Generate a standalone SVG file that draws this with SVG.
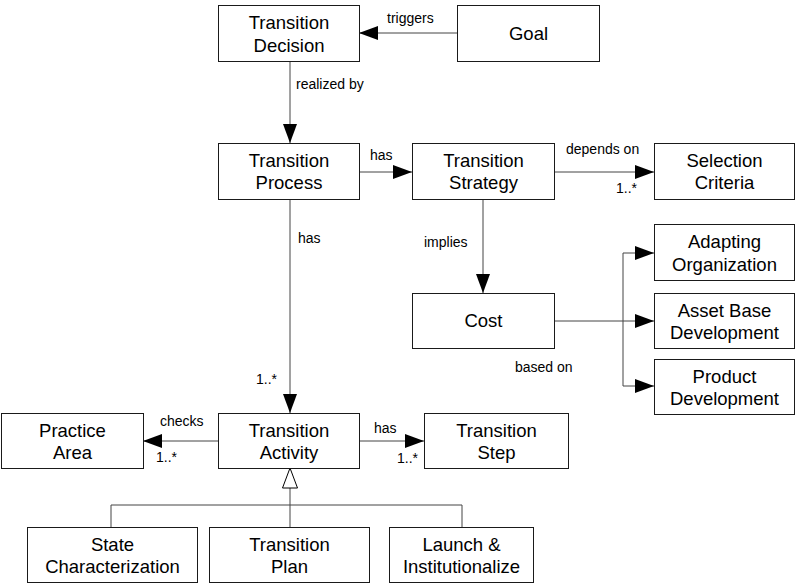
<svg xmlns="http://www.w3.org/2000/svg" width="795" height="583" viewBox="0 0 795 583">
<style>
.box{fill:#fff;stroke:#1a1a1a;stroke-width:1}
.nt{font-family:"Liberation Sans",Arial,sans-serif;font-size:18.5px;fill:#000;text-anchor:middle}
.lb{font-family:"Liberation Sans",Arial,sans-serif;font-size:14px;fill:#000}
.cn{fill:none;stroke:#444;stroke-width:1}
</style>
<defs>
<marker id="arr" markerUnits="userSpaceOnUse" markerWidth="20" markerHeight="16" refX="19" refY="7.5" orient="auto">
<path d="M0,0.5 L19,7.5 L0,14.5 z" fill="#000"/>
</marker>
<marker id="gen" markerUnits="userSpaceOnUse" markerWidth="22" markerHeight="18" refX="20.5" refY="8.5" orient="auto">
<path d="M0.5,1 L20.5,8.5 L0.5,16 z" fill="#fff" stroke="#000" stroke-width="1"/>
</marker>
</defs>
<rect width="795" height="583" fill="#fff"/>
<g id="connectors">
<line class="cn" x1="457" y1="33" x2="359" y2="33" marker-end="url(#arr)"/>
<line class="cn" x1="290" y1="61" x2="290" y2="143" marker-end="url(#arr)"/>
<line class="cn" x1="359" y1="172" x2="412" y2="172" marker-end="url(#arr)"/>
<line class="cn" x1="554" y1="172" x2="654" y2="172" marker-end="url(#arr)"/>
<line class="cn" x1="483" y1="199" x2="483" y2="293" marker-end="url(#arr)"/>
<line class="cn" x1="290" y1="199" x2="290" y2="413" marker-end="url(#arr)"/>
<line class="cn" x1="554" y1="321" x2="654" y2="321" marker-end="url(#arr)"/>
<path class="cn" d="M623,321 V253 H654" marker-end="url(#arr)"/>
<path class="cn" d="M623,321 V386 H654" marker-end="url(#arr)"/>
<line class="cn" x1="218" y1="441" x2="143" y2="441" marker-end="url(#arr)"/>
<line class="cn" x1="359" y1="441" x2="424" y2="441" marker-end="url(#arr)"/>
<path class="cn" d="M111,527 V505 H462 V527"/>
<line class="cn" x1="290" y1="527" x2="290" y2="468" marker-end="url(#gen)"/>
<text class="lb" x="387" y="23">triggers</text>
<text class="lb" x="296" y="89">realized by</text>
<text class="lb" x="370" y="160">has</text>
<text class="lb" x="566" y="154">depends on</text>
<text class="lb" x="616" y="193">1..*</text>
<text class="lb" x="298" y="243">has</text>
<text class="lb" x="424" y="247">implies</text>
<text class="lb" x="515" y="372">based on</text>
<text class="lb" x="256" y="384">1..*</text>
<text class="lb" x="160" y="426">checks</text>
<text class="lb" x="156" y="462">1..*</text>
<text class="lb" x="374" y="433">has</text>
<text class="lb" x="397" y="463">1..*</text>
</g>
<g id="transition-decision"><rect class="box" x="218.5" y="5.5" width="141" height="56"/><text class="nt" x="289" y="28.5">Transition</text><text class="nt" x="289" y="51.5">Decision</text></g>
<g id="goal"><rect class="box" x="457.5" y="5.5" width="142" height="56"/><text class="nt" x="528.5" y="39.5">Goal</text></g>
<g id="transition-process"><rect class="box" x="218.5" y="143.5" width="141" height="56"/><text class="nt" x="289" y="166.5">Transition</text><text class="nt" x="289" y="189">Process</text></g>
<g id="transition-strategy"><rect class="box" x="412.5" y="143.5" width="142" height="56"/><text class="nt" x="483.5" y="166.5">Transition</text><text class="nt" x="483.5" y="189">Strategy</text></g>
<g id="selection-criteria"><rect class="box" x="654.5" y="143.5" width="140" height="56"/><text class="nt" x="724.5" y="166.5">Selection</text><text class="nt" x="724.5" y="189">Criteria</text></g>
<g id="adapting-organization"><rect class="box" x="654.5" y="224.5" width="140" height="56"/><text class="nt" x="724.5" y="248">Adapting</text><text class="nt" x="724.5" y="270.5">Organization</text></g>
<g id="cost"><rect class="box" x="412.5" y="293.5" width="142" height="55"/><text class="nt" x="483.5" y="327">Cost</text></g>
<g id="asset-base-development"><rect class="box" x="654.5" y="293.5" width="140" height="55"/><text class="nt" x="724.5" y="316.5">Asset Base</text><text class="nt" x="724.5" y="339">Development</text></g>
<g id="product-development"><rect class="box" x="654.5" y="359.5" width="140" height="55"/><text class="nt" x="724.5" y="382.5">Product</text><text class="nt" x="724.5" y="405">Development</text></g>
<g id="practice-area"><rect class="box" x="1.5" y="413.5" width="142" height="55"/><text class="nt" x="72.5" y="436.5">Practice</text><text class="nt" x="72.5" y="459">Area</text></g>
<g id="transition-activity"><rect class="box" x="218.5" y="413.5" width="141" height="55"/><text class="nt" x="289" y="436.5">Transition</text><text class="nt" x="289" y="459">Activity</text></g>
<g id="transition-step"><rect class="box" x="424.5" y="413.5" width="144" height="55"/><text class="nt" x="496.5" y="436.5">Transition</text><text class="nt" x="496.5" y="459">Step</text></g>
<g id="state-characterization"><rect class="box" x="27.5" y="527.5" width="170" height="55"/><text class="nt" x="112.5" y="550.5">State</text><text class="nt" x="112.5" y="573">Characterization</text></g>
<g id="transition-plan"><rect class="box" x="209.5" y="527.5" width="160" height="55"/><text class="nt" x="289.5" y="550.5">Transition</text><text class="nt" x="289.5" y="573">Plan</text></g>
<g id="launch-institutionalize"><rect class="box" x="389.5" y="527.5" width="144" height="55"/><text class="nt" x="461.5" y="550.5">Launch &amp;</text><text class="nt" x="461.5" y="573">Institutionalize</text></g>
</svg>
